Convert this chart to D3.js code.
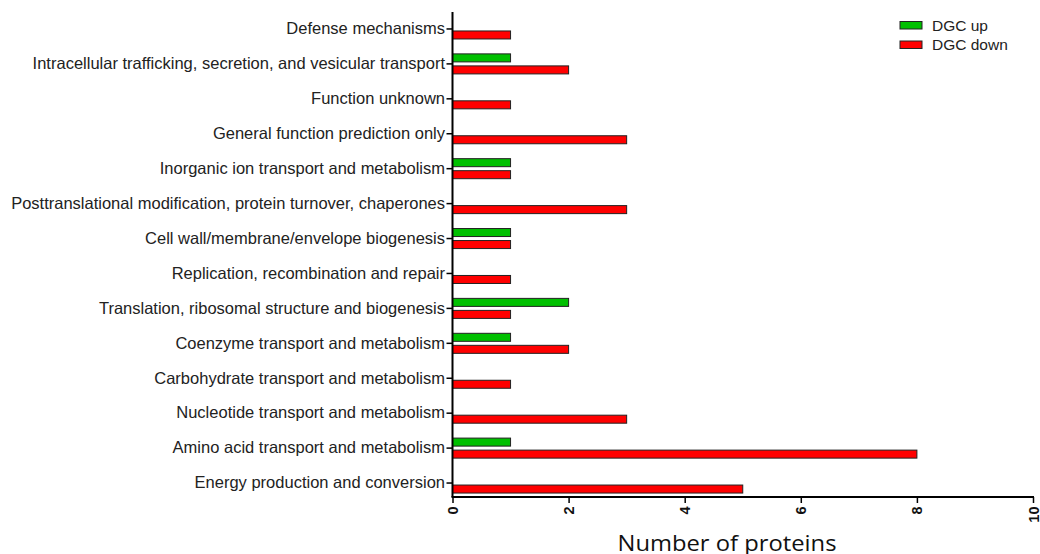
<!DOCTYPE html>
<html>
<head>
<meta charset="utf-8">
<script src="https://cdn.jsdelivr.net/npm/d3@7/dist/d3.min.js"></script>
<style>
  html, body { margin: 0; padding: 0; background: #fff; }
  svg { display: block; }
</style>
</head>
<body>
<svg id="chart" width="1040" height="554"></svg>
<script>
// COG functional categories, listed top to bottom
const categories = [
  "Defense mechanisms",
  "Intracellular trafficking, secretion, and vesicular transport",
  "Function unknown",
  "General function prediction only",
  "Inorganic ion transport and metabolism",
  "Posttranslational modification, protein turnover, chaperones",
  "Cell wall/membrane/envelope biogenesis",
  "Replication, recombination and repair",
  "Translation, ribosomal structure and biogenesis",
  "Coenzyme transport and metabolism",
  "Carbohydrate transport and metabolism",
  "Nucleotide transport and metabolism",
  "Amino acid transport and metabolism",
  "Energy production and conversion"
];
const dgcUp   = [0, 1, 0, 0, 1, 0, 1, 0, 2, 1, 0, 0, 1, 0];
const dgcDown = [1, 2, 1, 3, 1, 3, 1, 1, 1, 2, 1, 3, 8, 5];
const seriesNames = ["DGC up", "DGC down"];
const seriesColors = ["#00c000", "#ff0000"];
const xTicks = [0, 2, 4, 6, 8, 10];

const svg = d3.select("#chart");
const x0 = 452.5, x1 = 1033, yTop = 12, yAxis = 497;
const labelFont = "Liberation Sans, Arial, sans-serif";

const x = d3.scaleLinear().domain([0, 10]).range([x0, x1]);
const y = d3.scaleBand().domain(categories).range([11.5, 500.5]).paddingInner(0).paddingOuter(0);
const ySub = d3.scaleBand().domain(seriesNames).range([0, y.bandwidth()])
  .paddingInner(0.333).paddingOuter(0.62);

const rows = categories.map((c, i) => ({ c, vals: [dgcUp[i], dgcDown[i]] }));

// bars
const g = svg.append("g");
rows.forEach(r => {
  r.vals.forEach((v, k) => {
    if (v <= 0) return;
    g.append("rect")
      .attr("x", x(0))
      .attr("y", y(r.c) + ySub(seriesNames[k]))
      .attr("width", x(v) - x(0))
      .attr("height", ySub.bandwidth())
      .attr("fill", seriesColors[k])
      .attr("stroke", "#222")
      .attr("stroke-width", 1);
  });
});

// y axis
const yAxisG = svg.append("g")
  .attr("transform", `translate(${x0},0)`)
  .call(d3.axisLeft(y).tickSize(6).tickPadding(1.5).tickSizeOuter(0));
yAxisG.select(".domain").remove();
yAxisG.append("line").attr("x1", 0).attr("x2", 0).attr("y1", yTop).attr("y2", yAxis)
  .attr("stroke", "#000").attr("stroke-width", 2);
yAxisG.selectAll(".tick line").attr("stroke", "#000").attr("stroke-width", 1.5);
yAxisG.selectAll(".tick text")
  .attr("font-family", labelFont)
  .attr("font-size", 16.5)
  .attr("fill", "#222");

// x axis
const xAxisG = svg.append("g")
  .attr("transform", `translate(0,${yAxis})`)
  .call(d3.axisBottom(x).tickValues(xTicks).tickFormat(d3.format("d")).tickSize(6).tickSizeOuter(0));
xAxisG.select(".domain").attr("stroke", "#000").attr("stroke-width", 2)
  .attr("d", `M${x0 - 1},0H${x1 + 1}`);
xAxisG.selectAll(".tick line").attr("stroke", "#000").attr("stroke-width", 1.5);
xAxisG.selectAll(".tick text")
  .attr("font-family", labelFont)
  .attr("font-size", 14.5)
  .attr("font-weight", "bold")
  .attr("fill", "#111")
  .attr("transform", "rotate(-90)")
  .attr("x", -9.5)
  .attr("y", 0)
  .attr("dy", "0.35em")
  .attr("text-anchor", "end");

// x axis title
svg.append("text")
  .attr("x", 727).attr("y", 551)
  .attr("text-anchor", "middle")
  .attr("font-family", "Open Sans, Noto Sans, sans-serif")
  .attr("font-size", 22)
  .attr("textLength", 219)
  .attr("lengthAdjust", "spacingAndGlyphs")
  .attr("fill", "#111")
  .text("Number of proteins");

// legend
const leg = svg.append("g").attr("transform", "translate(900,21.5)");
seriesNames.forEach((s, k) => {
  const row = leg.append("g").attr("transform", `translate(0,${k * 19.5})`);
  row.append("rect").attr("x", 0).attr("y", 0).attr("width", 22).attr("height", 7.5)
    .attr("fill", seriesColors[k]).attr("stroke", "#222").attr("stroke-width", 1);
  row.append("text").attr("x", 32).attr("y", 4).attr("dy", "0.35em")
    .attr("font-family", labelFont)
    .attr("font-size", 15.5).attr("fill", "#222").text(s);
});
</script>
</body>
</html>
